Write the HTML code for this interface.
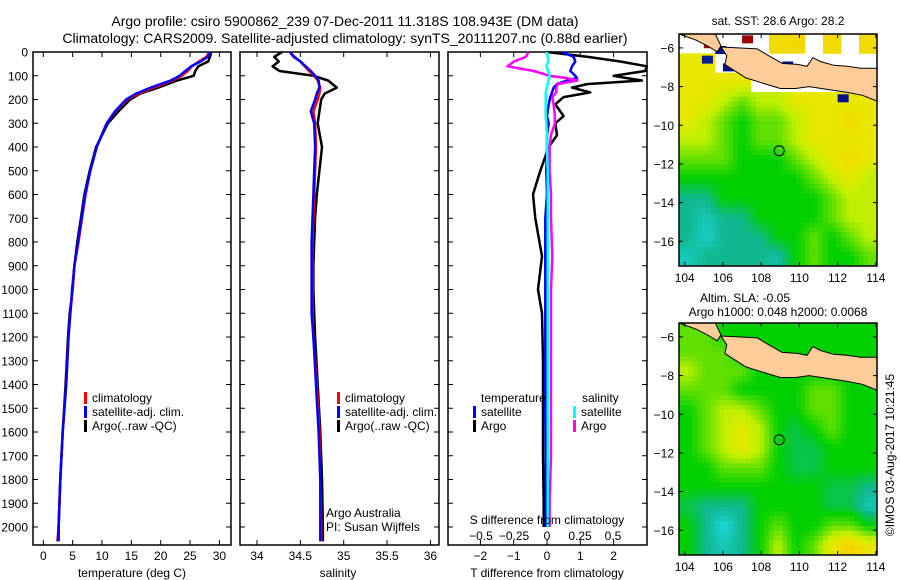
<!DOCTYPE html>
<html><head><meta charset="utf-8"><style>
html,body{margin:0;padding:0;background:#fff;}
svg{display:block;font-family:"Liberation Sans",sans-serif;}
text{fill:#000;}
</style></head><body>
<svg id="fig" width="900" height="580" viewBox="0 0 900 580" xmlns="http://www.w3.org/2000/svg">
<text x="345" y="26" font-size="14" text-anchor="middle">Argo profile: csiro 5900862_239 07-Dec-2011 11.318S 108.943E (DM data)</text>
<text x="345" y="43" font-size="14" text-anchor="middle">Climatology: CARS2009. Satellite-adjusted climatology: synTS_20111207.nc (0.88d earlier)</text>
<text x="778" y="25" font-size="12" text-anchor="middle">sat. SST: 28.6 Argo: 28.2</text>
<text x="745" y="302" font-size="12" text-anchor="middle">Altim. SLA: -0.05</text>
<text x="778" y="316" font-size="12" text-anchor="middle">Argo h1000: 0.048 h2000: 0.0068</text>
<text transform="translate(894,455) rotate(-90)" font-size="12" text-anchor="middle">©IMOS 03-Aug-2017 10:21:45</text>
<g id="layer"></g>
</svg>
<script>
// ---- profile data (depth in dbar) ----
const depths = [0,20,40,60,80,100,120,150,175,200,250,300,400,500,600,700,800,900,1000,1100,1200,1400,1600,1800,2000,2060];
const tempClim = [28.3,27.8,26.5,25.3,24.6,23.6,22.0,18.8,16.2,14.3,12.3,10.8,9.1,8.0,7.2,6.6,6.0,5.3,5.0,4.6,4.3,3.9,3.3,2.9,2.6,2.4];
const tempSat = [28.4,28.0,26.8,25.2,24.2,23.2,21.7,18.3,15.8,14.1,12.2,10.8,9.1,8.0,7.1,6.5,5.9,5.3,4.9,4.6,4.3,3.9,3.3,2.9,2.6,2.5];
const tempArgo = [28.6,28.4,28.1,26.4,25.9,25.6,22.8,19.6,16.5,14.8,12.8,11.0,9.0,7.9,7.0,6.4,5.8,5.3,5.0,4.5,4.2,3.8,3.3,2.9,2.6,2.6];
const salClim = [34.38,34.42,34.5,34.55,34.6,34.66,34.7,34.73,34.72,34.7,34.65,34.67,34.68,34.67,34.66,34.65,34.64,34.64,34.64,34.64,34.65,34.69,34.72,34.73,34.74,34.74];
const salSat = [34.38,34.43,34.5,34.56,34.62,34.67,34.71,34.72,34.69,34.67,34.62,34.66,34.67,34.66,34.65,34.64,34.63,34.63,34.63,34.63,34.65,34.68,34.71,34.73,34.73,34.73];
const salArgo = [34.29,34.2,34.25,34.18,34.26,34.65,34.82,34.92,34.78,34.74,34.72,34.7,34.75,34.72,34.69,34.67,34.66,34.65,34.65,34.66,34.67,34.7,34.73,34.75,34.76,34.76];
const diffDepths = [0,20,40,60,80,100,110,120,135,150,170,190,220,270,300,350,400,500,600,700,860,1000,1100,1300,1500,1700,1900,2000];
const tDiffArgo = [0,1.2,2.2,3.0,2.95,2.0,2.4,2.85,1.2,0.75,1.3,0.5,0.25,0.5,0.25,0.3,0.05,-0.2,-0.42,-0.35,-0.15,-0.27,-0.15,-0.12,-0.12,-0.12,-0.1,-0.1];
const tDiffSat = [0.45,0.8,0.85,0.75,0.7,0.85,0.9,0.6,0.3,0.2,0.15,0.1,0.05,0,0.05,0,0,-0.02,0,-0.05,-0.05,-0.05,-0.05,-0.05,-0.05,-0.04,-0.04,-0.04];
const sDiffArgo = [-0.14,-0.16,-0.25,-0.3,-0.1,0.02,0.15,0.23,0.08,0.07,0.07,0.04,0.05,0.06,0.06,0.03,0.02,0.02,0.03,0.03,0.04,0.03,0.03,0.03,0.03,0.03,0.02,0.02];
const sDiffSat = [0,0.005,0.01,-0.005,0.01,0.02,0.015,0.01,0.005,0,-0.01,-0.01,-0.01,-0.01,-0.005,0,0,0.005,0.005,0.005,0.005,0.005,0.005,0.005,0.005,0.005,0.005,0.005];
const depthTicks = [0,100,200,300,400,500,600,700,800,900,1000,1100,1200,1300,1400,1500,1600,1700,1800,1900,2000];
const tempTicks = [0,5,10,15,20,25,30];
const salTicks = [34,34.5,35,35.5,36];
const tDiffTicks = [-2,-1,0,1,2];
const sDiffTicks = [-0.5,-0.25,0,0.25,0.5];
// ---- map data (1-degree cells, rows north->south, value 0 cyan .. 6 orange-yellow, null = no data) ----
const mapLonEdges = [103.7,114.06];
const mapLatEdges = [-5.28,-17.28];
const sstGrid = [
 [null,null,null,null,null,5.5,5.6,null,5.5,null,5.5],
 [5,5,null,null,null,null,null,null,null,null,null],
 [5,5,5,5,null,null,null,null,null,null,null],
 [5,5,4,3,4,4,5,5,5,5,5],
 [5,4,3,2,3,3,4,5,5,5.5,5],
 [4,4,3,2,3,3,4,5,5,5,5],
 [3,3,3,2,2,2,3,4,5,5.5,5],
 [2,2,2,2,2,2,2,3,4,5,4],
 [1,1,2,2,2,2,2,2,3,4,4],
 [1,0.5,1,1,2,2,2,2,3,4,4],
 [1,0.3,1,1,1,2,2,3,2,3,4],
 [0.5,1,1,1,1,0.7,2,3,2,2,3]];
const slaGrid = [
 [3,3,2,2,2,2,2,2,2,2,2],
 [3,3,3,2,2,2,2,2,2,2,2],
 [4,3,3,3,2,2,2,2,2,2,2],
 [3,3,3,2,2,2,2,3,3,2,2],
 [2,3,4,4,3,2,2,3,3,2,2],
 [2,3,4,5,4,2,1.5,2,3,2,2],
 [2,3,4,5,4,2,1.5,1.5,2,2,2],
 [2,2,3,3,3,2,1.5,1.5,2,2,2],
 [2,2,2,2,2,2,2,2,1.5,1.5,1],
 [1.5,1,1,1,2,2,2,2,1.5,1.5,0.5],
 [2,1,0,1,2,3,2,2,3,3,2],
 [2,1,0.5,1,2,4,2,3,5,6,5]];
const floatLon = [108.943];
const floatLat = [-11.318];
const javaCoast = [[105.9,-5.95],[106.8,-6.0],[107.8,-6.05],[108.3,-6.35],[109.1,-6.8],[109.9,-6.85],[110.4,-6.95],[110.7,-6.5],[111.1,-6.7],[111.8,-6.9],[112.5,-6.95],[113.2,-7.05],[114.06,-7.05],[114.06,-8.75],[113.3,-8.45],[112.5,-8.3],[111.5,-8.15],[110.5,-8.0],[109.8,-8.1],[109.0,-8.1],[108.0,-7.8],[107.2,-7.55],[106.4,-7.05],[106.1,-6.85],[106.2,-6.4]];
const sumatraCoast = [[103.7,-5.28],[105.6,-5.28],[105.9,-5.9],[105.7,-6.2],[105.2,-5.9],[104.6,-5.6]];

const NS="http://www.w3.org/2000/svg";
const layer=document.getElementById('layer');
function mk(tag,attrs,parent){const e=document.createElementNS(NS,tag);for(const k in attrs)e.setAttribute(k,attrs[k]);(parent||layer).appendChild(e);return e;}

const PT=52, PB=545;
const yD=d=>PT+d*0.2375;
const panels=[
 {x0:33,x1:231,f:v=>43.3+v*5.87,name:'temperature-panel'},
 {x0:240,x1:439,f:v=>257+(v-34)*86.7,name:'salinity-panel'},
 {x0:448,x1:647,f:v=>547+v*33.3,name:'difference-panel'}];
const fS=v=>547+v*132;

panels.forEach((p,pi)=>{
  const g=mk('g',{});
  
  
  p.g=g;
  const r=mk('rect',{x:p.x0,y:PT,width:p.x1-p.x0,height:PB-PT,fill:'none',stroke:'#000','stroke-width':1.5},g);
  
  
  depthTicks.forEach(d=>{
    const y=yD(d);
    mk('line',{x1:p.x0,y1:y,x2:p.x0+5,y2:y,stroke:'#000'},g);
    mk('line',{x1:p.x1-5,y1:y,x2:p.x1,y2:y,stroke:'#000'},g);
    if(pi===0){const t=mk('text',{x:28,y:y+4.5,'font-size':12,'text-anchor':'end'},g);t.textContent=d;
      
      }
  });
});
function xTicks(p,ticks,f,labelY,name){
  ticks.forEach(v=>{const x=f(v);
    mk('line',{x1:x,y1:PT,x2:x,y2:PT+5,stroke:'#000'},p.g);
    mk('line',{x1:x,y1:PB-5,x2:x,y2:PB,stroke:'#000'},p.g);
    const t=mk('text',{x:x,y:labelY,'font-size':12,'text-anchor':'middle'},p.g);t.textContent=String(v).replace('-','\u2212');
    
    });
}
xTicks(panels[0],tempTicks,panels[0].f,560,'temperature-tick-label');
xTicks(panels[1],salTicks,panels[1].f,560,'salinity-tick-label');
xTicks(panels[2],tDiffTicks,panels[2].f,560,'t-diff-tick-label');
sDiffTicks.forEach(v=>{const t=mk('text',{x:fS(v),y:540,'font-size':12,'text-anchor':'middle'},panels[2].g);t.textContent=String(v).replace('-','\u2212');
  
  });
function label(x,y,s,name,anchor,size){const t=mk('text',{x:x,y:y,'font-size':size||12,'text-anchor':anchor||'start'});t.textContent=s;
  
  return t;}
label(132,577,'temperature (deg C)','x-axis-title-temperature','middle');
label(338,577,'salinity','x-axis-title-salinity','middle');
label(547,577,'T difference from climatology','x-axis-title-t-diff','middle');
label(547,524,'S difference from climatology','x-axis-title-s-diff','middle');
label(326,517,'Argo Australia','credit-argo-australia');
label(326,531,'PI: Susan Wijffels','credit-pi');

function series(p,xs,ds,f,color,name){
  const pts=xs.map((v,i)=>f(v).toFixed(1)+','+yD(ds[i]).toFixed(1)).join(' ');
  const l=mk('polyline',{points:pts,fill:'none',stroke:color,'stroke-width':2.5,'stroke-linejoin':'round'},p.g);
  
  
}
series(panels[0],tempArgo,depths,panels[0].f,'#000','temperature-argo-line');
series(panels[0],tempClim,depths,panels[0].f,'#f00','temperature-climatology-line');
series(panels[0],tempSat,depths,panels[0].f,'#00f','temperature-satellite-line');
series(panels[1],salArgo,depths,panels[1].f,'#000','salinity-argo-line');
series(panels[1],salClim,depths,panels[1].f,'#f00','salinity-climatology-line');
series(panels[1],salSat,depths,panels[1].f,'#00f','salinity-satellite-line');
series(panels[2],tDiffArgo,diffDepths,panels[2].f,'#000','t-diff-argo-line');
series(panels[2],tDiffSat,diffDepths,panels[2].f,'#00f','t-diff-satellite-line');
series(panels[2],sDiffArgo,diffDepths,fS,'#f0f','s-diff-argo-line');
series(panels[2],sDiffSat,diffDepths,fS,'#0ff','s-diff-satellite-line');

function legend(x,y,color,s){
  const g=mk('g',{});
  
  
  mk('rect',{x:x,y:y-10,width:3,height:12,fill:color},g);
  const t=mk('text',{x:x+8,y:y,'font-size':12},g);t.textContent=s;
}
[[84,'#f00','climatology'],[84,'#00f','satellite-adj. clim.'],[84,'#000','Argo(..raw -QC)']].forEach((e,i)=>legend(e[0],402+i*14,e[1],e[2]));
[[337,'#f00','climatology'],[337,'#00f','satellite-adj. clim.'],[337,'#000','Argo(..raw -QC)']].forEach((e,i)=>legend(e[0],402+i*14,e[1],e[2]));
label(481,402,'temperature','legend-header-temperature');
label(582,402,'salinity','legend-header-salinity');
legend(473,416,'#00f','satellite');legend(473,430,'#000','Argo');
legend(573,416,'#0ff','satellite');legend(573,430,'#f0f','Argo');

// ---- maps ----
const stops=[[32,216,224],[16,184,144],[0,208,0],[96,224,0],[192,240,0],[232,232,0],[248,208,0]];
function cmap(v){const i=Math.max(0,Math.min(5,Math.floor(v))),t=Math.min(1,v-i),a=stops[i],b=stops[i+1];
  return 'rgb('+a.map((c,k)=>Math.round(c+(b[k]-c)*t)).join(',')+')';}
function sample(grid,u,v){ // u,v in cell units (continuous), bilinear over non-null
  const nr=grid.length,nc=grid[0].length;
  const nearest=grid[Math.min(nr-1,Math.max(0,Math.floor(v)))][Math.min(nc-1,Math.max(0,Math.floor(u)))];
  if(nearest===null)return null;
  const x=Math.max(0,Math.min(nc-1,u-0.5)),y=Math.max(0,Math.min(nr-1,v-0.5));
  const x0=Math.floor(x),y0=Math.floor(y),x1=Math.min(nc-1,x0+1),y1=Math.min(nr-1,y0+1),fx=x-x0,fy=y-y0;
  let s=0,w=0;
  [[x0,y0,(1-fx)*(1-fy)],[x1,y0,fx*(1-fy)],[x0,y1,(1-fx)*fy],[x1,y1,fx*fy]].forEach(q=>{const val=grid[q[1]][q[0]];if(val!==null&&q[2]>0){s+=val*q[2];w+=q[2];}});
  return w>0?s/w:nearest;
}
function drawMap(top,grid,name,extras){
  const L=679,R=877,T=top,B=top+232;
  const xL=lon=>L+(lon-mapLonEdges[0])/(mapLonEdges[1]-mapLonEdges[0])*(R-L);
  const yL=lat=>T+(lat-mapLatEdges[0])/(mapLatEdges[1]-mapLatEdges[0])*(B-T);
  const g=mk('g',{});
  
  
  const nr=grid.length,nc=grid[0].length,SUB=4;
  const cw=(R-L)/nc/SUB,ch=(B-T)/nr/SUB;
  for(let r=0;r<nr*SUB;r++)for(let c=0;c<nc*SUB;c++){
    const v=sample(grid,(c+0.5)/SUB,(r+0.5)/SUB); if(v===null)continue;
    const cell=mk('rect',{x:(L+c*cw).toFixed(2),y:(T+r*ch).toFixed(2),width:(cw+0.4).toFixed(2),height:(ch+0.4).toFixed(2),fill:cmap(v)},g);
    
    
  }
  if(extras)extras(g,xL,yL);
  [javaCoast,sumatraCoast].forEach(poly=>{
    const land=mk('polygon',{points:poly.map(p=>xL(p[0]).toFixed(1)+','+yL(p[1]).toFixed(1)).join(' '),fill:'#fccc99',stroke:'#000','stroke-width':1},g);
    
    
  });
  const fr=mk('rect',{x:L,y:T,width:R-L,height:B-T,fill:'none',stroke:'#000','stroke-width':1.5},g);
  
  
  [104,106,108,110,112,114].forEach(lon=>{const x=xL(lon);
    mk('line',{x1:x,y1:T,x2:x,y2:T+4,stroke:'#000'},g);mk('line',{x1:x,y1:B-4,x2:x,y2:B,stroke:'#000'},g);
    const t=mk('text',{x:x,y:B+16,'font-size':12,'text-anchor':'middle'},g);t.textContent=lon;
    
    });
  [-6,-8,-10,-12,-14,-16].forEach(lat=>{const y=yL(lat);
    mk('line',{x1:L,y1:y,x2:L+4,y2:y,stroke:'#000'},g);mk('line',{x1:R-4,y1:y,x2:R,y2:y,stroke:'#000'},g);
    const t=mk('text',{x:L-5,y:y+4.5,'font-size':12,'text-anchor':'end'},g);t.textContent=String(lat).replace('-','\u2212');
    
    });
  const c=mk('circle',{cx:xL(floatLon[0]),cy:yL(floatLat[0]),r:5,fill:'none',stroke:'#000','stroke-width':1},g);
  
  
}
const sstSquares=[[105.0,-5.6,'#a00000'],[107.0,-5.35,'#a00000'],[105.6,-5.9,'#001090'],[106.0,-6.8,'#001090'],[109.1,-6.7,'#001090'],[112.0,-8.4,'#001090'],[104.9,-6.4,'#0a2090']];
drawMap(34,sstGrid,'sst-map',(g,xL,yL)=>{
  sstSquares.forEach(s=>{const r=mk('rect',{x:xL(s[0]),y:yL(s[1]),width:11,height:8,fill:s[2]},g);
    
    });
});
drawMap(323,slaGrid,'sla-map');
</script>
</body></html>
